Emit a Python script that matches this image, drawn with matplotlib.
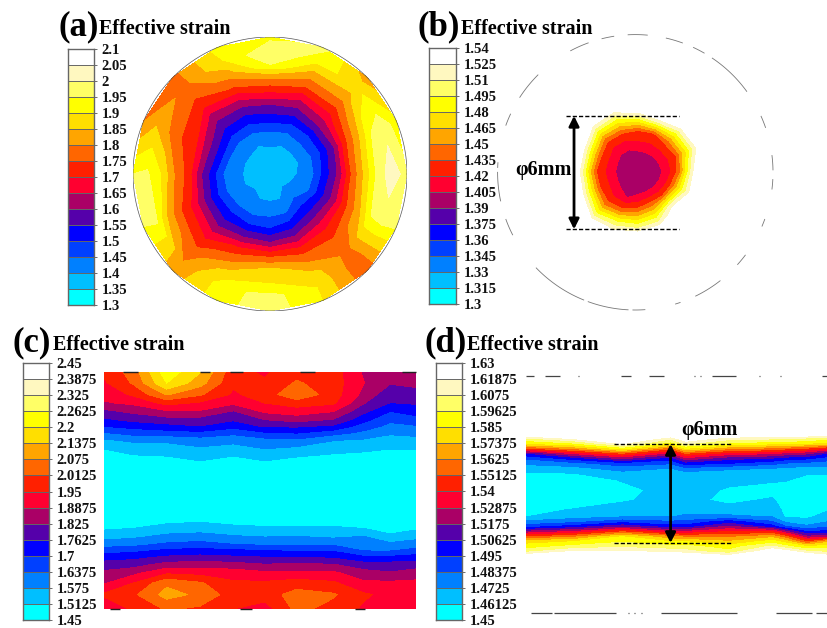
import numpy as np
import matplotlib
matplotlib.use('Agg')
import matplotlib.pyplot as plt
from matplotlib.colors import ListedColormap

plt.rcParams['font.family'] = ['Liberation Serif', 'DejaVu Serif']
plt.rcParams['font.weight'] = 'bold'

W, H = 827, 628

# Colores de las 16 bandas, de menor a mayor
band_colors = ['#00FFFF', '#00BFFF', '#0080FF', '#0040FF', '#0000FF', '#5500AA', '#AA0066', '#FF0030',
               '#FF2000', '#FF6600', '#FFA500', '#FFDF00', '#FFFF00', '#FFFF66', '#FFF8C0', '#FFFFFF']

labels_a = ['1.3', '1.35', '1.4', '1.45', '1.5', '1.55', '1.6', '1.65', '1.7', '1.75', '1.8', '1.85', '1.9',
            '1.95', '2', '2.05', '2.1']
labels_b = ['1.3', '1.315', '1.33', '1.345', '1.36', '1.375', '1.39', '1.405', '1.42', '1.435', '1.45', '1.465',
            '1.48', '1.495', '1.51', '1.525', '1.54']
labels_c = ['1.45', '1.5125', '1.575', '1.6375', '1.7', '1.7625', '1.825', '1.8875', '1.95', '2.0125', '2.075',
            '2.1375', '2.2', '2.2625', '2.325', '2.3875', '2.45']
labels_d = ['1.45', '1.46125', '1.4725', '1.48375', '1.495', '1.50625', '1.5175', '1.52875', '1.54', '1.55125',
            '1.5625', '1.57375', '1.585', '1.59625', '1.6075', '1.61875', '1.63']

# Panel (a): seccion transversal, radio relativo y angulo
radii_a = [0.2, 0.3, 0.4, 0.5, 0.6, 0.7, 0.8, 0.9, 1.0]
angles_a = [0, 22.5, 45, 67.5, 90, 112.5, 135, 157.5, 180, 202.5, 225, 247.5, 270, 292.5, 315, 337.5]
center_a = 1.36
strain_a = [
    [1.40, 1.43, 1.52, 1.61, 1.76, 1.87, 1.98, 2.03, 1.97],
    [1.39, 1.43, 1.50, 1.59, 1.74, 1.84, 1.95, 1.98, 1.92],
    [1.39, 1.44, 1.50, 1.60, 1.68, 1.76, 1.83, 1.88, 1.82],
    [1.39, 1.43, 1.50, 1.58, 1.66, 1.76, 1.83, 1.92, 1.97],
    [1.40, 1.44, 1.52, 1.59, 1.70, 1.80, 1.95, 2.00, 1.93],
    [1.39, 1.43, 1.50, 1.57, 1.66, 1.76, 1.83, 1.90, 1.92],
    [1.40, 1.43, 1.50, 1.57, 1.63, 1.71, 1.76, 1.78, 1.78],
    [1.40, 1.43, 1.53, 1.62, 1.72, 1.75, 1.80, 1.85, 1.80],
    [1.40, 1.41, 1.50, 1.60, 1.73, 1.80, 1.90, 1.96, 1.95],
    [1.40, 1.42, 1.49, 1.58, 1.68, 1.75, 1.83, 1.96, 1.95],
    [1.41, 1.43, 1.50, 1.57, 1.65, 1.72, 1.77, 1.80, 1.82],
    [1.40, 1.43, 1.50, 1.60, 1.72, 1.80, 1.88, 1.93, 1.93],
    [1.40, 1.44, 1.50, 1.60, 1.74, 1.86, 1.90, 1.97, 1.98],
    [1.40, 1.44, 1.52, 1.61, 1.72, 1.80, 1.87, 1.90, 1.90],
    [1.42, 1.48, 1.55, 1.64, 1.72, 1.77, 1.78, 1.76, 1.76],
    [1.41, 1.44, 1.53, 1.62, 1.74, 1.83, 1.95, 1.97, 1.96],
]

# Panel (b): mancha central
radii_b = [0.1, 0.15, 0.2, 0.25, 0.3, 0.35, 0.4, 0.45, 0.5]
angles_b = [0, 22.5, 45, 67.5, 90, 112.5, 135, 157.5, 180, 202.5, 225, 247.5, 270, 292.5, 315, 337.5]
center_b = 1.395
blob_center_b = (0.02, 0.005)
strain_b = [
    [1.398, 1.402, 1.408, 1.423, 1.443, 1.484, 1.523, 1.540, 1.540],
    [1.399, 1.403, 1.411, 1.423, 1.435, 1.464, 1.492, 1.521, 1.540],
    [1.399, 1.404, 1.414, 1.426, 1.441, 1.469, 1.498, 1.527, 1.540],
    [1.400, 1.405, 1.415, 1.424, 1.434, 1.477, 1.521, 1.540, 1.540],
    [1.400, 1.405, 1.415, 1.425, 1.435, 1.469, 1.504, 1.536, 1.540],
    [1.398, 1.402, 1.409, 1.421, 1.434, 1.460, 1.487, 1.515, 1.540],
    [1.398, 1.402, 1.408, 1.419, 1.430, 1.453, 1.484, 1.515, 1.540],
    [1.399, 1.403, 1.412, 1.424, 1.438, 1.473, 1.508, 1.540, 1.540],
    [1.399, 1.403, 1.411, 1.422, 1.433, 1.467, 1.507, 1.540, 1.540],
    [1.399, 1.403, 1.412, 1.424, 1.435, 1.468, 1.502, 1.534, 1.540],
    [1.398, 1.402, 1.408, 1.419, 1.431, 1.451, 1.479, 1.506, 1.536],
    [1.397, 1.401, 1.404, 1.420, 1.437, 1.467, 1.497, 1.520, 1.540],
    [1.398, 1.402, 1.412, 1.428, 1.451, 1.477, 1.503, 1.531, 1.540],
    [1.399, 1.403, 1.418, 1.438, 1.463, 1.488, 1.512, 1.540, 1.540],
    [1.399, 1.403, 1.415, 1.435, 1.479, 1.521, 1.540, 1.540, 1.540],
    [1.398, 1.402, 1.412, 1.431, 1.462, 1.495, 1.523, 1.540, 1.540],
]
# Tramos visibles del contorno del disco (grados)
outline_b = [(85, 93), (70, 77), (60, 65), (36, 56), (19, 24), (1, 7), (-7, -3), (-23, -20), (-42, -37), (-64, -52),
             (-73, -71), (-91, -86), (-110, -93), (-136, -112), (-160, -153), (-180, -168), (176, 178), (155, 160),
             (135, 147), (110, 118), (99, 104)]

# Panel (c): seccion longitudinal (mm)
x_c = [0, 1.78, 3.80, 5.82, 7.84, 9.74, 11.68, 13.90, 15.72, 17.33, 18.91]
y_c = [0, 0.67, 1.37, 1.88, 2.38, 2.89, 3.29, 3.70, 4.10, 4.71, 5.41, 8.95, 9.45, 9.96, 10.46, 10.87, 11.27, 11.68,
       12.18, 12.79, 13.49, 14.36]
strain_c = [
    [1.96, 2.04, 2.24, 2.14, 1.97, 1.94, 1.99, 1.98, 1.88, 1.85, 1.85],
    [1.94, 2.02, 2.20, 2.10, 1.96, 1.96, 2.02, 1.98, 1.89, 1.83, 1.84],
    [1.91, 1.96, 2.08, 2.02, 1.94, 1.98, 2.06, 1.98, 1.87, 1.78, 1.80],
    [1.88, 1.90, 1.97, 1.94, 1.90, 1.95, 1.98, 1.96, 1.83, 1.76, 1.77],
    [1.81, 1.84, 1.88, 1.88, 1.82, 1.90, 1.92, 1.89, 1.78, 1.70, 1.72],
    [1.75, 1.78, 1.80, 1.80, 1.77, 1.825, 1.85, 1.82, 1.72, 1.65, 1.68],
    [1.70, 1.72, 1.74, 1.76, 1.72, 1.77, 1.77, 1.75, 1.67, 1.62, 1.63],
    [1.63, 1.66, 1.67, 1.68, 1.65, 1.69, 1.70, 1.66, 1.62, 1.58, 1.59],
    [1.57, 1.59, 1.59, 1.61, 1.60, 1.62, 1.63, 1.58, 1.57, 1.56, 1.56],
    [1.51, 1.53, 1.54, 1.56, 1.54, 1.57, 1.55, 1.53, 1.52, 1.51, 1.51],
    [1.48, 1.49, 1.49, 1.51, 1.49, 1.51, 1.49, 1.48, 1.48, 1.48, 1.48],
    [1.47, 1.47, 1.49, 1.50, 1.48, 1.48, 1.48, 1.48, 1.49, 1.46, 1.47],
    [1.50, 1.51, 1.535, 1.54, 1.53, 1.52, 1.52, 1.52, 1.51, 1.47, 1.50],
    [1.55, 1.56, 1.59, 1.60, 1.58, 1.57, 1.575, 1.56, 1.575, 1.53, 1.55],
    [1.61, 1.62, 1.65, 1.66, 1.64, 1.63, 1.63, 1.63, 1.60, 1.59, 1.61],
    [1.68, 1.69, 1.72, 1.73, 1.72, 1.71, 1.70, 1.70, 1.64, 1.64, 1.66],
    [1.74, 1.75, 1.78, 1.79, 1.78, 1.77, 1.77, 1.76, 1.72, 1.72, 1.74],
    [1.79, 1.80, 1.85, 1.86, 1.85, 1.83, 1.84, 1.83, 1.79, 1.79, 1.79],
    [1.84, 1.87, 1.94, 1.93, 1.92, 1.90, 1.90, 1.90, 1.85, 1.83, 1.86],
    [1.88, 1.95, 2.06, 2.02, 1.96, 1.96, 1.98, 1.96, 1.90, 1.90, 1.90],
    [1.96, 2.00, 2.10, 2.06, 1.98, 1.98, 2.04, 2.02, 1.96, 1.93, 1.92],
    [1.90, 1.96, 2.02, 2.00, 1.95, 1.92, 2.03, 1.99, 1.94, 1.90, 1.90],
]
outline_top_c = [(1.17, 2.08), (5.82, 6.43), (7.63, 8.44), (11.87, 12.78), (18.04, 18.91)]
outline_bottom_c = [(0.36, 0.97), (8.24, 9.0), (15.2, 15.8)]

# Panel (d): seccion longitudinal (mm)
x_d = [0, 2.93, 5.86, 8.79, 9.70, 12.32, 14.95, 15.76, 17.07, 18.28]
y_d = [3.47, 3.78, 4.08, 4.38, 4.69, 4.99, 5.29, 5.60, 5.90, 6.30, 6.91, 7.52, 8.12, 8.53, 8.83, 9.13, 9.43, 9.74,
       10.04, 10.34, 10.65, 10.95]
strain_d = [
    [1.635, 1.640, 1.640, 1.640, 1.640, 1.640, 1.635, 1.635, 1.635, 1.630],
    [1.605, 1.620, 1.640, 1.610, 1.630, 1.612, 1.610, 1.610, 1.605, 1.600],
    [1.585, 1.595, 1.620, 1.590, 1.610, 1.595, 1.588, 1.588, 1.585, 1.580],
    [1.550, 1.565, 1.590, 1.555, 1.585, 1.565, 1.560, 1.555, 1.550, 1.540],
    [1.505, 1.530, 1.550, 1.525, 1.550, 1.535, 1.530, 1.525, 1.520, 1.505],
    [1.485, 1.500, 1.520, 1.500, 1.525, 1.510, 1.505, 1.500, 1.497, 1.490],
    [1.475, 1.480, 1.490, 1.485, 1.500, 1.495, 1.487, 1.483, 1.480, 1.478],
    [1.465, 1.468, 1.478, 1.472, 1.480, 1.475, 1.472, 1.470, 1.468, 1.468],
    [1.460, 1.461, 1.468, 1.466, 1.468, 1.466, 1.466, 1.464, 1.462, 1.462],
    [1.455, 1.455, 1.462, 1.465, 1.466, 1.464, 1.463, 1.462, 1.458, 1.456],
    [1.455, 1.455, 1.458, 1.465, 1.466, 1.460, 1.456, 1.456, 1.456, 1.454],
    [1.455, 1.456, 1.460, 1.465, 1.465, 1.458, 1.463, 1.455, 1.454, 1.455],
    [1.458, 1.462, 1.466, 1.468, 1.468, 1.466, 1.468, 1.458, 1.456, 1.460],
    [1.461, 1.468, 1.472, 1.472, 1.475, 1.475, 1.472, 1.460, 1.459, 1.466],
    [1.475, 1.480, 1.490, 1.485, 1.487, 1.500, 1.485, 1.470, 1.466, 1.472],
    [1.490, 1.500, 1.515, 1.500, 1.500, 1.520, 1.500, 1.485, 1.475, 1.482],
    [1.520, 1.530, 1.550, 1.530, 1.530, 1.540, 1.540, 1.520, 1.495, 1.498],
    [1.550, 1.560, 1.585, 1.565, 1.560, 1.560, 1.570, 1.555, 1.520, 1.525],
    [1.580, 1.585, 1.595, 1.585, 1.585, 1.575, 1.590, 1.580, 1.550, 1.570],
    [1.590, 1.600, 1.605, 1.600, 1.600, 1.590, 1.610, 1.600, 1.585, 1.590],
    [1.605, 1.620, 1.620, 1.615, 1.612, 1.600, 1.630, 1.625, 1.610, 1.605],
    [1.630, 1.640, 1.640, 1.640, 1.635, 1.625, 1.640, 1.640, 1.635, 1.625],
]
outline_top_d = [(0, 0.5), (1.15, 2.08), (3.2, 3.26), (5.76, 6.41), (7.5, 8.38), (10.2, 10.3), (10.6, 10.66),
                 (11.3, 12.73), (14.15, 14.2), (15.45, 15.5), (18.0, 18.28)]
outline_bottom_d = [(0.34, 1.61), (1.7, 5.45), (6.2, 6.25), (6.6, 6.65), (7.0, 7.05), (8.22, 12.8), (15.2, 17.4),
                    (17.6, 18.28)]


def px_axes(fig, left, top, right, bottom):
    return fig.add_axes([left / W, 1 - bottom / H, (right - left) / W, (bottom - top) / H])


def draw_colorbar(fig, box, tick_labels):
    ax = px_axes(fig, *box)
    edges = np.array([float(t) for t in tick_labels])
    cmap = ListedColormap(band_colors)
    values = np.arange(len(band_colors)).reshape(-1, 1)
    ax.pcolormesh([0, 1], edges, values, cmap=cmap, shading='flat')
    ax.hlines(edges, 0, 1, color='#666666', lw=0.7)
    ax.set_xlim(0, 1)
    ax.set_ylim(edges[0], edges[-1])
    ax.set_xticks([])
    ax.yaxis.tick_right()
    ax.set_yticks(edges)
    ax.set_yticklabels(tick_labels, fontsize=10.5, fontweight='bold', color='#111111')
    ax.tick_params(axis='y', length=2.5, width=0.6, color='#555555', pad=3)
    for s in ax.spines.values():
        s.set_color('#666666')
        s.set_linewidth(1.0)


def draw_heading(fig, letter, letter_x, heading_x, y):
    fig.text(letter_x / W, 1 - y / H, letter, fontsize=25, fontweight='bold', ha='left', va='center')
    fig.text(heading_x / W, 1 - (y + 2) / H, 'Effective strain', fontsize=14.5, fontweight='bold', ha='left', va='center')


def polar_grid(radii, angles, center, table, origin=(0, 0)):
    # Malla curvilinea cerrada con el centro como primera fila
    th = np.radians(list(angles) + [angles[0] + 360])
    r = np.array([0] + list(radii))
    R, T = np.meshgrid(r, th)
    Z = np.array(table)
    Z = np.hstack([np.full((Z.shape[0], 1), center), Z])
    Z = np.vstack([Z, Z[0]])
    return origin[0] + R * np.cos(T), origin[1] + R * np.sin(T), Z


def double_arrow(ax, x, y0, y1):
    ax.annotate('', xy=(x, y1), xytext=(x, y0), annotation_clip=False,
                arrowprops=dict(arrowstyle='<|-|>', color='black', lw=2.0, mutation_scale=15, shrinkA=0, shrinkB=0))


def draw_pieces(ax, pieces, y, color='#444444', lw=0.9):
    for x0, x1 in pieces:
        ax.plot([x0, x1], [y, y], color=color, lw=lw, clip_on=False, solid_capstyle='butt')


fig = plt.figure(figsize=(W / 100, H / 100), dpi=100)

# (a)
draw_colorbar(fig, (68, 49, 94, 305), labels_a)
draw_heading(fig, '(a)', 58, 99, 27)
levels_a = [float(t) for t in labels_a]
ax = px_axes(fig, 133, 37, 407, 311)
X, Y, Z = polar_grid(radii_a, angles_a, center_a, strain_a)
ax.contourf(X, Y, Z, levels=levels_a, colors=band_colors)
t = np.linspace(0, 2 * np.pi, 300)
ax.plot(np.cos(t), np.sin(t), color='#555555', lw=0.5)
ax.set_xlim(-1, 1)
ax.set_ylim(-1, 1)
ax.axis('off')

# (b)
draw_colorbar(fig, (429, 48, 456, 304), labels_b)
draw_heading(fig, '(b)', 417, 461, 27)
levels_b = [float(t) for t in labels_b]
ax = px_axes(fig, 497.6, 34.6, 773, 310)
X, Y, Z = polar_grid(radii_b, angles_b, center_b, strain_b, blob_center_b)
ax.contourf(X, Y, Z, levels=levels_b, colors=band_colors)
for a0, a1 in outline_b:
    t = np.radians(np.linspace(a0, a1, 20))
    ax.plot(np.cos(t), np.sin(t), color='#777777', lw=0.6, clip_on=False)
ax.plot([-0.5, 0.317], [0.41, 0.41], color='black', lw=1.0, ls=(0, (3, 1.5)))
ax.plot([-0.5, 0.317], [-0.414, -0.414], color='black', lw=1.0, ls=(0, (3, 1.5)))
double_arrow(ax, -0.445, -0.414, 0.41)
ax.text(-0.67, 0.02, 'φ6mm', fontsize=14.5, fontweight='bold', ha='center', va='center')
ax.set_xlim(-1, 1)
ax.set_ylim(-1, 1)
ax.axis('off')

# (c)
draw_colorbar(fig, (23, 363, 49, 620), labels_c)
draw_heading(fig, '(c)', 13, 53, 343)
levels_c = [float(t) for t in labels_c]
ax = px_axes(fig, 104, 372, 416, 609)
ax.contourf(x_c, y_c, strain_c, levels=levels_c, colors=band_colors)
draw_pieces(ax, outline_top_c, y_c[0], color='#222222', lw=1.0)
draw_pieces(ax, outline_bottom_c, y_c[-1], color='#222222', lw=1.0)
ax.set_xlim(x_c[0], x_c[-1])
ax.set_ylim(y_c[-1], y_c[0])
ax.axis('off')

# (d)
draw_colorbar(fig, (436, 363, 462, 620), labels_d)
draw_heading(fig, '(d)', 424, 467, 343)
levels_d = [float(t) for t in labels_d]
ax = px_axes(fig, 525.7, 376, 827, 613.3)
ax.contourf(x_d, y_d, strain_d, levels=levels_d, colors=band_colors)
draw_pieces(ax, outline_top_d, 0)
draw_pieces(ax, outline_bottom_d, 14.38)
ax.plot([5.35, 12.48], [4.12, 4.12], color='black', lw=1.0, ls=(0, (3, 1.5)))
ax.plot([5.35, 12.48], [10.12, 10.12], color='black', lw=1.0, ls=(0, (3, 1.5)))
double_arrow(ax, 8.79, 10.12, 4.12)
ax.text(11.17, 3.27, 'φ6mm', fontsize=14.5, fontweight='bold', ha='center', va='center')
ax.set_xlim(0, 18.28)
ax.set_ylim(14.38, 0)
ax.axis('off')

fig.savefig('out.png', dpi=100)
